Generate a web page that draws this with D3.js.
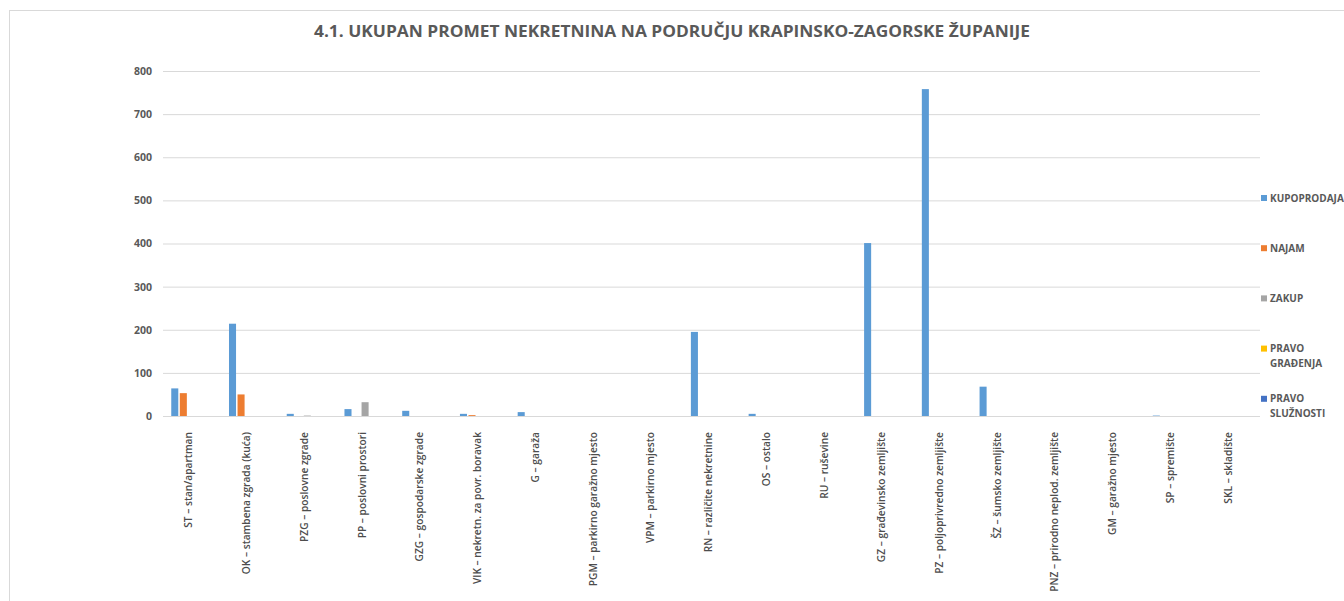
<!DOCTYPE html>
<html>
<head>
<meta charset="utf-8">
<script src="https://cdn.jsdelivr.net/npm/d3@7"></script>
<style>
  body { margin: 0; background: #fff; }
  svg { display: block; font-family: "Open Sans", sans-serif; }
</style>
</head>
<body>
<div id="chart"></div>
<script>
const categories = [
    'ST – stan/apartman', 'OK – stambena zgrada (kuća)', 'PZG – poslovne zgrade',
    'PP – poslovni prostori', 'GZG – gospodarske zgrade', 'VIK – nekretn. za povr. boravak',
    'G – garaža', 'PGM – parkirno garažno mjesto', 'VPM – parkirno mjesto',
    'RN – različite nekretnine', 'OS – ostalo', 'RU – ruševine',
    'GZ – građevinsko zemljište', 'PZ – poljoprivredno zemljište', 'ŠZ – šumsko zemljište',
    'PNZ – prirodno neplod. zemljište', 'GM – garažno mjesto', 'SP – spremište', 'SKL – skladište',
];
const kupoprodaja = [64, 214, 5, 16, 12, 5, 9, 0, 0, 195, 5, 0, 401, 758, 68, 0, 0, 1, 0];
const najam = [53, 50, 0, 0, 0, 2, 0, 0, 0, 0, 0, 0, 0, 0, 0, 0, 0, 0, 0];
const zakup = [0, 0, 1, 32, 0, 0, 0, 0, 0, 0, 0, 0, 0, 0, 0, 0, 0, 0, 0];
const pravoGradenja = [0, 0, 0, 0, 0, 0, 0, 0, 0, 0, 0, 0, 0, 0, 0, 0, 0, 0, 0];
const pravoSluznosti = [0, 0, 0, 0, 0, 0, 0, 0, 0, 0, 0, 0, 0, 0, 0, 0, 0, 0, 0];
const yTicks = [0, 100, 200, 300, 400, 500, 600, 700, 800];
const SERIES = [
    { name: 'KUPOPRODAJA', lines: ['KUPOPRODAJA'], values: kupoprodaja, color: '#5b9bd5' },
    { name: 'NAJAM', lines: ['NAJAM'], values: najam, color: '#ed7d31' },
    { name: 'ZAKUP', lines: ['ZAKUP'], values: zakup, color: '#a5a5a5' },
    { name: 'PRAVO GRAĐENJA', lines: ['PRAVO', 'GRAĐENJA'], values: pravoGradenja, color: '#ffc000' },
    { name: 'PRAVO SLUŽNOSTI', lines: ['PRAVO', 'SLUŽNOSTI'], values: pravoSluznosti, color: '#4472c4' },
];

const width = 1344;
const height = 601;
const plot = { left: 163, right: 1260, top: 71, bottom: 416 };

const svg = d3.select('#chart')
    .append('svg')
    .attr('width', width)
    .attr('height', height);

// chart frame (goes past the right and bottom edge)
svg.append('rect')
    .attr('x', 9.5)
    .attr('y', 10.5)
    .attr('width', width)
    .attr('height', height)
    .attr('fill', 'none')
    .attr('stroke', '#d9d9d9');

svg.append('text')
    .attr('x', 672)
    .attr('y', 37)
    .attr('text-anchor', 'middle')
    .attr('font-size', '15.5px')
    .attr('font-weight', 'bold')
    .attr('fill', '#595959')
    .attr('textLength', 716)
    .attr('lengthAdjust', 'spacingAndGlyphs')
    .text('4.1. UKUPAN PROMET NEKRETNINA NA PODRUČJU KRAPINSKO-ZAGORSKE ŽUPANIJE');

const x0 = d3.scaleBand()
    .domain(categories)
    .range([plot.left, plot.right])
    .padding(0);

const x1 = d3.scaleBand()
    .domain(SERIES.map((s) => s.name))
    .range([x0.bandwidth() * 0.13, x0.bandwidth() * 0.87])
    .padding(0);

const y = d3.scaleLinear()
    .domain([0, 800])
    .range([plot.bottom, plot.top]);

// gridlines + y tick labels
const yAxis = svg.append('g')
    .attr('transform', `translate(${plot.left},0)`)
    .call(d3.axisLeft(y).tickValues(yTicks).tickSize(-(plot.right - plot.left)).tickPadding(11));
yAxis.select('.domain').remove();
yAxis.selectAll('.tick line').attr('stroke', '#d9d9d9');
yAxis.selectAll('.tick text')
    .attr('fill', '#595959')
    .attr('font-size', '10.5px')
    .attr('font-weight', 'bold')
    .attr('font-family', '"Open Sans", sans-serif');

// bars
const groups = svg.append('g')
    .selectAll('g')
    .data(SERIES)
    .join('g')
    .attr('fill', (s) => s.color);

groups.selectAll('rect')
    .data((s) => s.values.map((v, i) => ({ series: s.name, cat: categories[i], value: v })))
    .join('rect')
    .filter((d) => d.value > 0)
    .attr('x', (d) => x0(d.cat) + x1(d.series) + 0.75)
    .attr('y', (d) => y(d.value))
    .attr('width', x1.bandwidth() - 1.5)
    .attr('height', (d) => y(0) - y(d.value));

// category labels
const xAxis = svg.append('g')
    .attr('transform', `translate(0,${plot.bottom})`)
    .call(d3.axisBottom(x0).tickSize(0).tickPadding(0));
xAxis.select('.domain').remove();
xAxis.selectAll('.tick text')
    .attr('transform', 'translate(-3,16) rotate(-90)')
    .attr('text-anchor', 'end')
    .attr('dy', '0.35em')
    .attr('y', 0)
    .attr('fill', '#4d4d4d')
    .attr('font-size', '10.2px')
    .attr('font-weight', '600')
    .attr('font-family', '"Open Sans", sans-serif');

// legend
const legend = svg.append('g')
    .selectAll('g')
    .data(SERIES)
    .join('g')
    .attr('transform', (s, i) => `translate(1261,${198 + i * 50.2})`);

legend.append('rect')
    .attr('x', 0)
    .attr('y', -3)
    .attr('width', 6)
    .attr('height', 6)
    .attr('fill', (s) => s.color);

legend.append('text')
    .attr('fill', '#595959')
    .attr('font-size', '10px')
    .attr('font-weight', 'bold')
    .selectAll('tspan')
    .data((s) => s.lines)
    .join('tspan')
    .attr('x', 9)
    .attr('y', (d, i) => i * 15)
    .attr('dy', '0.35em')
    .text((d) => d);
</script>
</body>
</html>
